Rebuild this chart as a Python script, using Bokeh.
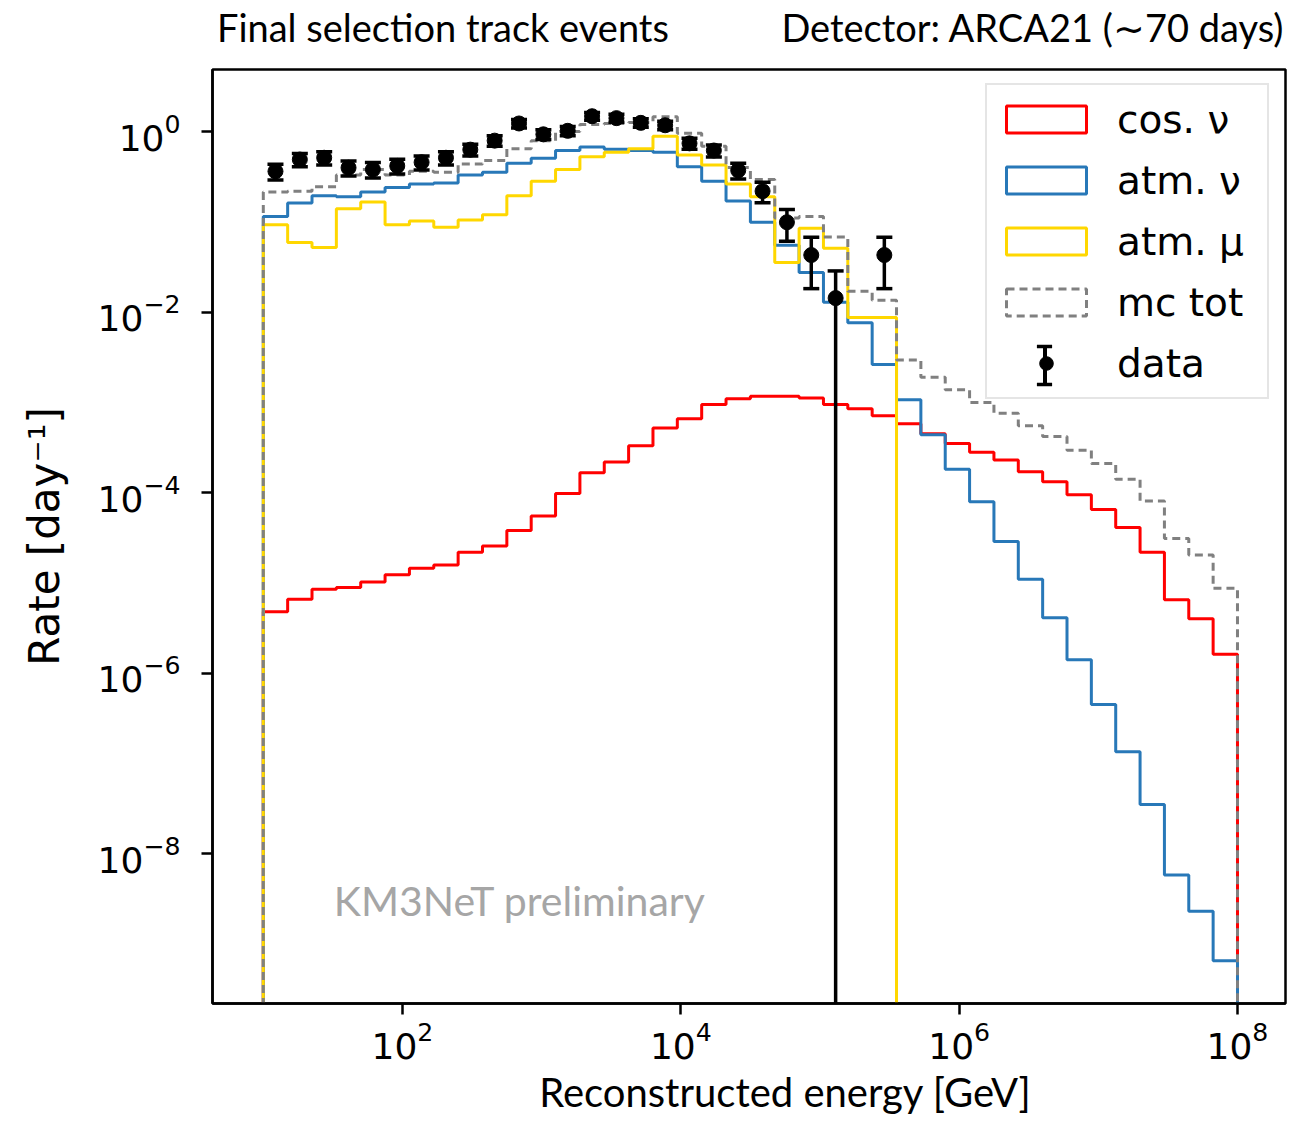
import json
import numpy as np
from bokeh.plotting import figure
from bokeh.models import (Range1d, FixedTicker, LogTickFormatter, Label, Legend,
                          LegendItem, ColumnDataSource, LogAxis, CustomJSTickFormatter)
from bokeh.embed import file_html
from bokeh.resources import INLINE

# ---------------- data (rates per day, 40 log bins from 1e1 to 1e8 GeV) ----------------
bin_edges_log = (1.0, 8.0)
n_bins = 40

cos_nu = [4.8e-6, 6.6e-6, 8.5e-6, 8.9e-6, 1.02e-5, 1.23e-5, 1.45e-5, 1.58e-5, 2.19e-5, 2.57e-5,
          3.8e-5, 5.5e-5, 9.8e-5, 1.66e-4, 2.19e-4, 3.3e-4, 5.2e-4, 6.6e-4, 9.5e-4, 1.10e-3,
          1.17e-3, 1.17e-3, 1.12e-3, 9.5e-4, 8.5e-4, 7.1e-4, 5.8e-4, 4.5e-4, 3.5e-4, 2.8e-4,
          2.3e-4, 1.70e-4, 1.32e-4, 9.5e-5, 6.5e-5, 4.1e-5, 2.19e-5, 6.5e-6, 4.0e-6, 1.62e-6]

atm_nu = [0.115, 0.162, 0.195, 0.19, 0.214, 0.24, 0.263, 0.269, 0.331, 0.355,
          0.447, 0.507, 0.617, 0.676, 0.638, 0.617, 0.589, 0.407, 0.282, 0.170,
          0.0989, 0.055, 0.0275, 0.0129, 7.6e-3, 2.63e-3, 1.07e-3, 4.37e-4, 1.82e-4, 7.9e-5,
          2.88e-5, 1.10e-5, 4.1e-6, 1.41e-6, 4.5e-7, 1.35e-7, 3.5e-8, 5.8e-9, 2.3e-9, 6.5e-10]

atm_mu = [0.093, 0.059, 0.052, 0.14, 0.166, 0.093, 0.102, 0.087, 0.105, 0.12,
          0.195, 0.282, 0.38, 0.525, 0.589, 0.645, 0.89, 0.55, 0.427, 0.263,
          0.19, 0.0355, 0.085, 0.051, 8.7e-3, 8.7e-3, 0, 0, 0, 0,
          0, 0, 0, 0, 0, 0, 0, 0, 0, 0]

mc_tot = [0.214, 0.219, 0.245, 0.331, 0.38, 0.331, 0.363, 0.355, 0.437, 0.479,
          0.646, 0.79, 1.0, 1.2, 1.23, 1.26, 1.46, 0.96, 0.69, 0.40,
          0.295, 0.11, 0.115, 0.068, 0.017, 0.0135, 2.95e-3, 1.9e-3, 1.38e-3, 1.0e-3,
          7.6e-4, 5.5e-4, 4.2e-4, 2.95e-4, 2.1e-4, 1.41e-4, 8.1e-5, 3.1e-5, 2.04e-5, 8.7e-6]

# data points (bins 0..25, bin 24 empty)
data_rate = [0.363, 0.49, 0.513, 0.398, 0.38, 0.417, 0.457, 0.513, 0.631, 0.794,
             1.23, 0.933, 1.02, 1.48, 1.41, 1.25, 1.175, 0.741, 0.617, 0.372,
             0.219, 0.099, 0.0429, 0.0143, np.nan, 0.0429]
data_err = [0.072, 0.083, 0.086, 0.075, 0.074, 0.077, 0.081, 0.086, 0.095, 0.107,
            0.133, 0.116, 0.121, 0.145, 0.142, 0.134, 0.13, 0.103, 0.094, 0.073,
            0.056, 0.038, 0.0247, 0.0143, np.nan, 0.0247]

x_ticks = [1e2, 1e4, 1e6, 1e8]
y_ticks = [1e-8, 1e-6, 1e-4, 1e-2, 1e0]

title_texts = ["Final selection track events", "Detector: ARCA21 (∼70 days)"]
title_centers = [10 ** 2.291, 10 ** 6.531]
x_label_text = ["Reconstructed energy [GeV]"]
x_label_center = [10 ** 4.752]

# ---------------- figure ----------------
x_lo, x_hi = 10 ** 0.635, 10 ** 8.345
y_lo, y_hi = 10 ** -9.66, 10 ** 0.688
floor = 1e-13

p = figure(width=1299, height=1121, x_axis_type="log", y_axis_type="log",
           x_range=Range1d(x_lo, x_hi), y_range=Range1d(y_lo, y_hi),
           output_backend="svg", toolbar_location=None,
           min_border_left=212, min_border_right=14, min_border_top=66, min_border_bottom=118)
p.xgrid.visible = False
p.ygrid.visible = False
p.outline_line_color = "black"
p.outline_line_width = 2.5
p.background_fill_color = "white"
p.border_fill_color = "white"

edges = np.logspace(bin_edges_log[0], bin_edges_log[1], n_bins + 1)


def step_xy(vals):
    v = [val if val > 0 else floor for val in vals]
    xs = [edges[0]]
    ys = [floor]
    for i, val in enumerate(v):
        xs += [edges[i], edges[i + 1]]
        ys += [val, val]
    xs.append(edges[-1])
    ys.append(floor)
    return xs, ys


lw = 3
series = [("cos. ν", cos_nu, "#ff0000", "solid"),
          ("atm. ν", atm_nu, "#2878b8", "solid"),
          ("atm. μ", atm_mu, "#ffd700", "solid"),
          ("mc tot", mc_tot, "#808080", "8 5")]
for name, vals, col, dash in series:
    xs, ys = step_xy(vals)
    p.line(xs, ys, line_color=col, line_width=lw, line_dash=dash)

# data points with error bars
centers = np.sqrt(edges[:-1] * edges[1:])[:len(data_rate)]
dr = np.array(data_rate)
de = np.array(data_err)
m = ~np.isnan(dr)
xc = centers[m]
yv = dr[m]
up = yv + de[m]
lo = np.maximum(yv - de[m], floor)
src = ColumnDataSource(dict(x=xc, y=yv, up=up, lo=lo))
p.segment(x0="x", y0="lo", x1="x", y1="up", source=src, line_color="black", line_width=3.5)
p.scatter(x="x", y="up", source=src, marker="dash", size=16, line_color="black", line_width=3.5)
p.scatter(x="x", y="lo", source=src, marker="dash", size=16, line_color="black", line_width=3.5)
p.scatter(x="x", y="y", source=src, marker="circle", size=15, fill_color="black",
          line_color="black")

# legend proxies (placed outside the visible x range)
off_x0, off_x1, off_y, off_y1 = [1e-3], [1e-2], [1e-3], [1e-2]
leg_rs = []
for name, vals, col, dash in series:
    r = p.quad(left=off_x0, right=off_x1, top=off_y1, bottom=off_y, fill_color="white",
               fill_alpha=0.0, line_color=col, line_width=lw, line_dash=dash)
    leg_rs.append((name, r))
dot_r = p.scatter(x=off_x0, y=off_y, marker="circle", size=14, fill_color="black",
                  line_color="black")
stem_r = p.quad(left=off_x0, right=off_x1, top=off_y1, bottom=off_y, fill_color="black",
                line_color=None)
cap_r = p.scatter(x=off_x0, y=off_y, marker="dash", size=16, line_color="black",
                  line_width=3.5)

items = [LegendItem(label=n, renderers=[r]) for n, r in leg_rs]
items.append(LegendItem(label="data", renderers=[dot_r]))
legend = Legend(items=items, location=(773, 604), orientation="vertical",
                glyph_width=100, glyph_height=34, label_standoff=21,
                label_text_font="DejaVu Sans", label_text_font_size="39px",
                label_text_color="black", label_width=141,
                label_height=50, spacing=11, padding=9, margin=0,
                border_line_color="#cccccc", border_line_width=2,
                background_fill_color="white", background_fill_alpha=0.8)
p.add_layout(legend, "center")

# error-bar stem and caps of the "data" legend icon
stem_leg = Legend(items=[LegendItem(label=" ", renderers=[stem_r])],
                  location=(829.5, 614), glyph_width=5, glyph_height=48,
                  label_standoff=0, label_width=0, label_height=0,
                  label_text_font_size="1px", padding=0, margin=0, spacing=0,
                  border_line_color=None, background_fill_alpha=0.0)
p.add_layout(stem_leg, "center")
cap_leg = Legend(items=[LegendItem(label=" ", renderers=[cap_r]),
                        LegendItem(label=" ", renderers=[cap_r])],
                 location=(812, 600), glyph_width=40, glyph_height=38,
                 label_standoff=0, label_width=0, label_height=0,
                 label_text_font_size="1px", padding=0, margin=0, spacing=0,
                 border_line_color=None, background_fill_alpha=0.0)
p.add_layout(cap_leg, "center")

# axes
for ax in (p.xaxis[0], p.yaxis[0]):
    ax.axis_line_width = 2.5
    ax.major_tick_line_width = 2.5
    ax.major_tick_out = 11
    ax.major_tick_in = 0
    ax.minor_tick_out = 0
    ax.minor_tick_in = 0
    ax.major_label_text_font = "DejaVu Sans"
    ax.major_label_text_font_size = "36px"
    ax.major_label_text_color = "black"
    ax.formatter = LogTickFormatter()
p.xaxis[0].ticker = FixedTicker(ticks=x_ticks, minor_ticks=[])
p.yaxis[0].ticker = FixedTicker(ticks=y_ticks, minor_ticks=[])
p.xaxis[0].major_label_standoff = 6
p.yaxis[0].major_label_standoff = 21

p.yaxis[0].axis_label = "Rate [day⁻¹]"
p.yaxis[0].axis_label_text_font = "DejaVu Sans"
p.yaxis[0].axis_label_text_font_style = "normal"
p.yaxis[0].axis_label_text_font_size = "42px"
p.yaxis[0].axis_label_text_color = "black"
p.yaxis[0].axis_label_standoff = 26

# x-axis title, placed off-centre like the reference, as an extra label-only axis
xlab_ax = LogAxis(ticker=FixedTicker(ticks=x_label_center, minor_ticks=[]),
                  formatter=CustomJSTickFormatter(
                      code="const t = " + json.dumps(x_label_text) + "; return t[index];"),
                  axis_line_color=None, major_tick_line_color=None,
                  minor_tick_line_color=None, major_tick_out=0, major_tick_in=0,
                  major_label_standoff=6, major_label_text_font="Lato",
                  major_label_text_font_size="40px", major_label_text_color="black")
p.add_layout(xlab_ax, "below")

# titles as labels of an extra (invisible) axis above the frame
title_ax = LogAxis(ticker=FixedTicker(ticks=title_centers, minor_ticks=[]),
                   formatter=CustomJSTickFormatter(
                       code="const t = " + json.dumps(title_texts) + "; return t[index];"),
                   axis_line_color=None, major_tick_line_color=None,
                   minor_tick_line_color=None, major_tick_out=0, major_tick_in=0,
                   major_label_standoff=20, major_label_text_font="Lato",
                   major_label_text_font_size="38px", major_label_text_color="black")
p.add_layout(title_ax, "above")

# watermark
p.add_layout(Label(x=10 ** 1.506, y=10 ** -8.515, text="KM3NeT preliminary",
                   text_font="Lato", text_font_size="41px", text_color="#a6a6a6",
                   text_align="left", text_baseline="alphabetic"))

open("out.html", "w").write(file_html(p, INLINE))
